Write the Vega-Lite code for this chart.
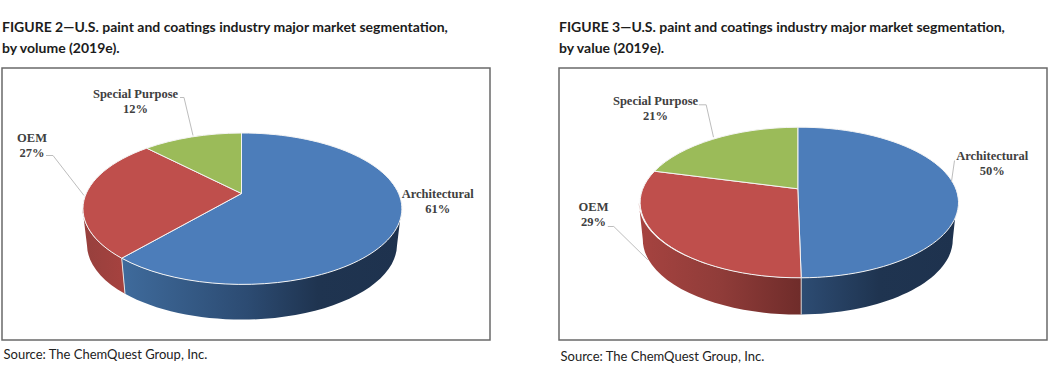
{"$schema":"https://vega.github.io/schema/vega-lite/v6.json","padding":{"left":1,"top":19,"right":0,"bottom":0},"autosize":{"type":"pad"},"background":"white","spacing":67,"config":{"view":{"stroke":"#6a6a6a","strokeWidth":1.5},"title":{"font":"Lato","fontSize":14,"fontWeight":"bold","color":"#1c1c1c","anchor":"start","frame":"group","lineHeight":21,"offset":12.5},"axis":{"domain":false,"ticks":false,"labels":false,"grid":false,"titleFont":"Lato","titleFontSize":13,"titleFontWeight":"normal","titleColor":"#222222","titleAlign":"left","titleBaseline":"alphabetic"},"text":{"font":"Liberation Serif","fontWeight":"bold","fontSize":12.5,"color":"#404040","lineBreak":"\n","lineHeight":15,"align":"center","baseline":"middle"}},"datasets":{"volume":[{"segment":"Architectural","share":61},{"segment":"OEM","share":27},{"segment":"Special Purpose","share":12}],"value":[{"segment":"Architectural","share":50},{"segment":"OEM","share":29},{"segment":"Special Purpose","share":21}]},"hconcat":[{"width":488,"height":272,"title":{"text":["FIGURE 2—U.S. paint and coatings industry major market segmentation,","by volume (2019e)."]},"data":{"name":"volume"},"transform":[{"calculate":"datum.segment + '\\n' + datum.share + '%'","as":"label"}],"encoding":{"x":{"datum":0,"type":"quantitative","scale":{"domain":[-244,244]},"axis":{"title":"Source: The ChemQuest Group, Inc.","titleX":1,"titleY":18}},"y":{"datum":0,"type":"quantitative","scale":{"domain":[-136,136]},"axis":null}},"resolve":{"scale":{"shape":"independent"}},"layer":[{"transform":[{"filter":"datum.segment === 'Architectural'"}],"mark":{"type":"point","filled":true,"size":4,"opacity":1,"shape":"M155.5,4.5 A159.5,75.7 0 0 1 -124.3,54.2 L-121,89.8 A155,75 0 0 0 151,41.5 Z","fill":{"gradient":"linear","x1":0,"x2":1,"y1":0,"y2":0,"stops":[{"offset":0,"color":"#3f6b9c"},{"offset":0.45,"color":"#2c4b72"},{"offset":0.7,"color":"#1f3450"},{"offset":1,"color":"#1e324e"}]}}},{"transform":[{"filter":"datum.segment === 'OEM'"}],"mark":{"type":"point","filled":true,"size":4,"opacity":1,"shape":"M-124.3,54.2 A159.5,75.7 0 0 1 -163.5,4.5 L-159,41.5 A155,75 0 0 0 -121,89.8 Z","fill":{"gradient":"linear","x1":0,"x2":1,"y1":0,"y2":0,"stops":[{"offset":0,"color":"#96403d"},{"offset":1,"color":"#a6423f"}]}}},{"mark":{"type":"point","filled":true,"size":4,"opacity":1,"stroke":"#f4f4f4","strokeWidth":1},"encoding":{"shape":{"field":"segment","type":"nominal","legend":null,"scale":{"domain":["Architectural","OEM","Special Purpose"],"range":["M-4.5,-10.5 L-4.5,-71 A159.5,75.7 0 1 1 -124.3,54.2 Z","M-4.5,-10.5 L-124.3,54.2 A159.5,75.7 0 0 1 -99.3,-55.8 Z","M-4.5,-10.5 L-99.3,-55.8 A159.5,75.7 0 0 1 -4.5,-71 Z"]}},"color":{"field":"segment","type":"nominal","legend":null,"scale":{"domain":["Architectural","OEM","Special Purpose"],"range":["#4c7dba","#bf4f4c","#9bbb59"]}}}},{"transform":[{"filter":"datum.segment === 'Architectural'"}],"mark":{"type":"point","filled":false,"size":4,"opacity":1,"stroke":"#e4e4e4","strokeWidth":1,"shape":"M-124.3,54.2 L-121,89.8"}},{"transform":[{"filter":"datum.segment !== 'Architectural'"}],"mark":{"type":"point","filled":false,"size":4,"opacity":1,"stroke":"#bdbdbd","strokeWidth":1},"encoding":{"shape":{"field":"segment","type":"nominal","legend":null,"scale":{"domain":["OEM","Special Purpose"],"range":["M-200,-48.5 L-193,-48.5 L-162,-8.5","M-66,-106.5 L-62,-106.5 L-53,-68.5"]}}}},{"transform":[{"filter":"datum.segment === 'Architectural'"}],"mark":{"type":"text","dx":191.7,"dy":-10},"encoding":{"text":{"field":"label"}}},{"transform":[{"filter":"datum.segment === 'OEM'"}],"mark":{"type":"text","dx":-214,"dy":-66.5},"encoding":{"text":{"field":"label"}}},{"transform":[{"filter":"datum.segment === 'Special Purpose'"}],"mark":{"type":"text","dx":-110.5,"dy":-110.5},"encoding":{"text":{"field":"label"}}}]},{"width":488,"height":272,"title":{"text":["FIGURE 3—U.S. paint and coatings industry major market segmentation,","by value (2019e)."]},"data":{"name":"value"},"transform":[{"calculate":"datum.segment + '\\n' + datum.share + '%'","as":"label"}],"encoding":{"x":{"datum":0,"type":"quantitative","scale":{"domain":[-244,244]},"axis":{"title":"Source: The ChemQuest Group, Inc.","titleX":1,"titleY":20}},"y":{"datum":0,"type":"quantitative","scale":{"domain":[-136,136]},"axis":null}},"resolve":{"scale":{"shape":"independent"}},"layer":[{"transform":[{"filter":"datum.segment === 'Architectural'"}],"mark":{"type":"point","filled":true,"size":4,"opacity":1,"shape":"M153.8,-1.5 A159,75.3 0 0 1 -1.8,73.8 L-1.8,110.5 A155,75 0 0 0 149.8,35.5 Z","fill":{"gradient":"linear","x1":0,"x2":1,"y1":0,"y2":0,"stops":[{"offset":0,"color":"#2d4c73"},{"offset":0.5,"color":"#1f3450"},{"offset":1,"color":"#1e324e"}]}}},{"transform":[{"filter":"datum.segment === 'OEM'"}],"mark":{"type":"point","filled":true,"size":4,"opacity":1,"shape":"M-1.8,73.8 A159,75.3 0 0 1 -164.2,-1.5 L-160.2,35.5 A155,75 0 0 0 -1.8,110.5 Z","fill":{"gradient":"linear","x1":0,"x2":1,"y1":0,"y2":0,"stops":[{"offset":0,"color":"#a64340"},{"offset":0.5,"color":"#903c39"},{"offset":1,"color":"#6f2c2a"}]}}},{"mark":{"type":"point","filled":true,"size":4,"opacity":1,"stroke":"#f4f4f4","strokeWidth":1},"encoding":{"shape":{"field":"segment","type":"nominal","legend":null,"scale":{"domain":["Architectural","OEM","Special Purpose"],"range":["M-5.2,-15.2 L-5.2,-76.8 A159,75.3 0 0 1 -1.8,73.8 Z","M-5.2,-15.2 L-1.8,73.8 A159,75.3 0 0 1 -148.5,-32.8 Z","M-5.2,-15.2 L-148.5,-32.8 A159,75.3 0 0 1 -5.2,-76.8 Z"]}},"color":{"field":"segment","type":"nominal","legend":null,"scale":{"domain":["Architectural","OEM","Special Purpose"],"range":["#4c7dba","#bf4f4c","#9bbb59"]}}}},{"transform":[{"filter":"datum.segment === 'OEM'"}],"mark":{"type":"point","filled":false,"size":4,"opacity":1,"stroke":"#d0d0d0","strokeWidth":1,"shape":"M-1.8,73.8 L-1.8,110.5"}},{"mark":{"type":"point","filled":false,"size":4,"opacity":1,"stroke":"#bdbdbd","strokeWidth":1},"encoding":{"shape":{"field":"segment","type":"nominal","legend":null,"scale":{"domain":["Architectural","OEM","Special Purpose"],"range":["M151.5,-43.5 L148.5,-22.5","M-195.2,22.5 L-189.2,22.5 L-155.2,55.8","M-104.2,-99.2 L-96.8,-99.2 L-89.5,-66.8"]}}}},{"transform":[{"filter":"datum.segment === 'Architectural'"}],"mark":{"type":"text","dx":189.2,"dy":-48.5},"encoding":{"text":{"field":"label"}}},{"transform":[{"filter":"datum.segment === 'OEM'"}],"mark":{"type":"text","dx":-209.5,"dy":3},"encoding":{"text":{"field":"label"}}},{"transform":[{"filter":"datum.segment === 'Special Purpose'"}],"mark":{"type":"text","dx":-147.5,"dy":-103.5},"encoding":{"text":{"field":"label"}}}]}]}
